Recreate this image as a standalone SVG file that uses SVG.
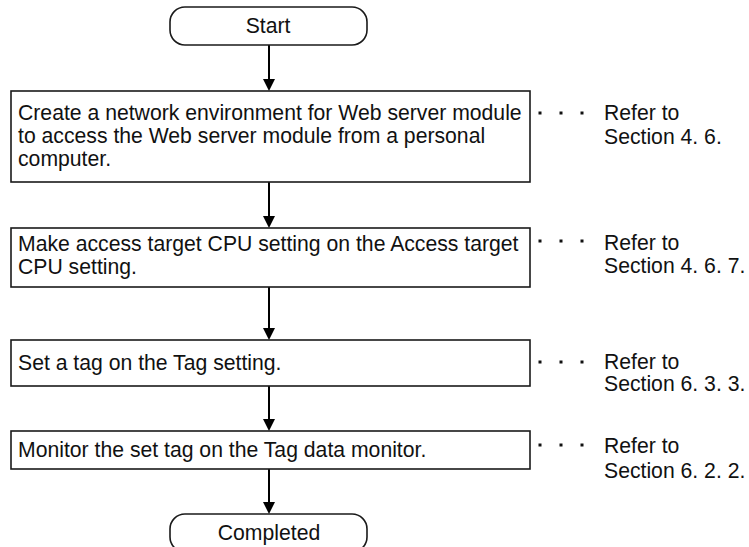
<svg xmlns="http://www.w3.org/2000/svg" width="749" height="547" viewBox="0 0 749 547">
<defs>
<style>
.box{fill:#fff;stroke:#1a1a1a;stroke-width:1.6}
.t{font-family:"Liberation Sans",Arial,sans-serif;font-size:21.2px;fill:#111}
.c{text-anchor:middle}
.ln{stroke:#000;stroke-width:2;fill:none}
.hd{fill:#000}
.dot{fill:#111}
</style>
</defs>
<rect width="749" height="547" fill="#fff"/>
<g id="connectors">
<line class="ln" x1="269" y1="45" x2="269" y2="80"/>
<polygon class="hd" points="263,79 275,79 269,91"/>
<line class="ln" x1="269" y1="182" x2="269" y2="217"/>
<polygon class="hd" points="263,216 275,216 269,228"/>
<line class="ln" x1="269" y1="287" x2="269" y2="329"/>
<polygon class="hd" points="263,328 275,328 269,340"/>
<line class="ln" x1="269" y1="386" x2="269" y2="420"/>
<polygon class="hd" points="263,419 275,419 269,431"/>
<line class="ln" x1="269" y1="469" x2="269" y2="503"/>
<polygon class="hd" points="263,502 275,502 269,514"/>
</g>
<g id="start">
<rect class="box" x="170" y="7" width="197" height="38" rx="15" ry="15"/>
<text class="t c" x="268" y="33">Start</text>
</g>
<g id="step1">
<rect class="box" x="11" y="91" width="519" height="91"/>
<text class="t" x="18" y="120">Create a network environment for Web server module</text>
<text class="t" x="18" y="143">to access the Web server module from a personal</text>
<text class="t" x="18" y="166">computer.</text>
</g>
<g id="ref1">
<rect class="dot" x="538.5" y="111.5" width="3" height="3"/>
<rect class="dot" x="559.5" y="111.5" width="3" height="3"/>
<rect class="dot" x="580.5" y="111.5" width="3" height="3"/>
<text class="t" x="604" y="120">Refer to</text>
<text class="t" x="604" y="144">Section 4. 6.</text>
</g>
<g id="step2">
<rect class="box" x="11" y="228" width="519" height="59"/>
<text class="t" x="18" y="251">Make access target CPU setting on the Access target</text>
<text class="t" x="18" y="274">CPU setting.</text>
</g>
<g id="ref2">
<rect class="dot" x="538.5" y="239.5" width="3" height="3"/>
<rect class="dot" x="559.5" y="239.5" width="3" height="3"/>
<rect class="dot" x="580.5" y="239.5" width="3" height="3"/>
<text class="t" x="604" y="250">Refer to</text>
<text class="t" x="604" y="273">Section 4. 6. 7.</text>
</g>
<g id="step3">
<rect class="box" x="11" y="340" width="519" height="46"/>
<text class="t" x="18" y="370">Set a tag on the Tag setting.</text>
</g>
<g id="ref3">
<rect class="dot" x="538.5" y="360.5" width="3" height="3"/>
<rect class="dot" x="559.5" y="360.5" width="3" height="3"/>
<rect class="dot" x="580.5" y="360.5" width="3" height="3"/>
<text class="t" x="604" y="369">Refer to</text>
<text class="t" x="604" y="391">Section 6. 3. 3.</text>
</g>
<g id="step4">
<rect class="box" x="11" y="431" width="519" height="38"/>
<text class="t" x="18" y="457">Monitor the set tag on the Tag data monitor.</text>
</g>
<g id="ref4">
<rect class="dot" x="538.5" y="443.5" width="3" height="3"/>
<rect class="dot" x="559.5" y="443.5" width="3" height="3"/>
<rect class="dot" x="580.5" y="443.5" width="3" height="3"/>
<text class="t" x="604" y="453">Refer to</text>
<text class="t" x="604" y="478">Section 6. 2. 2.</text>
</g>
<g id="completed">
<rect class="box" x="170" y="514" width="197" height="38" rx="15" ry="15"/>
<text class="t c" x="269" y="540">Completed</text>
</g>
</svg>
